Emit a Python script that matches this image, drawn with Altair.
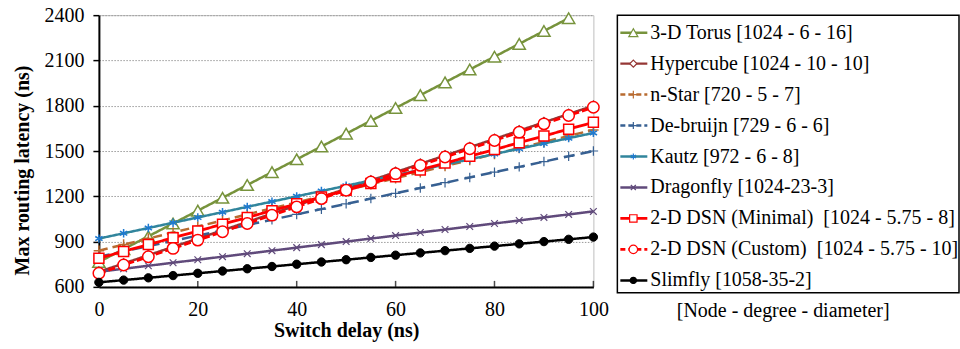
import altair as alt
import pandas as pd

# Switch delay values (ns)
delay = [0, 5, 10, 15, 20, 25, 30, 35, 40, 45, 50, 55, 60, 65, 70, 75, 80, 85, 90, 95, 100]

names = [
    "3-D Torus [1024 - 6 - 16]",
    "Hypercube [1024 - 10 - 10]",
    "n-Star [720 - 5 - 7]",
    "De-bruijn [729 - 6 - 6]",
    "Kautz [972 - 6 - 8]",
    "Dragonfly [1024-23-3]",
    "2-D DSN (Minimal)\u00a0 [1024 - 5.75 - 8]",
    "2-D DSN (Custom)\u00a0 [1024 - 5.75 - 10]",
    "Slimfly [1058-35-2]",
]

# Max routing latency (ns) per topology
torus = [765, 850, 935, 1020, 1105, 1190, 1275, 1360, 1445, 1530, 1615, 1700,
         1785, 1870, 1955, 2040, 2125, 2210, 2295, 2380]
hypercube = [700, 755, 810, 865, 920, 975, 1030, 1085, 1140, 1195, 1250, 1305,
             1360, 1415, 1470, 1525, 1580, 1635, 1690, 1745, 1800]
nstar = [840, 880, 920, 960, 1000, 1040, 1080, 1120, 1160, 1200, 1240, 1280,
         1320, 1360, 1400, 1440, 1480, 1520, 1560, 1600, 1640]
debruijn = [800, 835, 870, 905, 940, 975, 1010, 1045, 1080, 1115, 1150, 1185,
            1220, 1255, 1290, 1325, 1360, 1395, 1430, 1465, 1500]
kautz = [920, 955, 990, 1025, 1060, 1095, 1130, 1165, 1200, 1235, 1270, 1305,
         1340, 1375, 1410, 1445, 1480, 1515, 1550, 1585, 1620]
dragonfly = [700, 720, 740, 760, 780, 800, 820, 840, 860, 880, 900, 920,
             940, 960, 980, 1000, 1020, 1040, 1060, 1080, 1100]
dsn_min = [790, 835, 880, 925, 970, 1015, 1060, 1105, 1150, 1195, 1240, 1285,
           1330, 1375, 1420, 1465, 1510, 1555, 1600, 1645, 1690]
dsn_custom = [690, 745, 800, 855, 910, 965, 1020, 1075, 1130, 1185, 1240, 1295,
              1350, 1405, 1460, 1515, 1570, 1625, 1680, 1735, 1790]
slimfly = [630, 645, 660, 675, 690, 705, 720, 735, 750, 765, 780, 795,
           810, 825, 840, 855, 870, 885, 900, 915, 930]

series_values = [torus, hypercube, nstar, debruijn, kautz, dragonfly, dsn_min, dsn_custom, slimfly]

y_ticks = [600, 900, 1200, 1500, 1800, 2100, 2400]
x_ticks = [0, 20, 40, 60, 80, 100]

PLUS = "M-1,0H1M0,-1V1"
CROSS = "M-1,-1L1,1M-1,1L1,-1"
STAR = "M0,-1V1M-0.87,-0.5L0.87,0.5M-0.87,0.5L0.87,-0.5"

# line colour, dash, marker shape, marker stroke, marker fill, marker size, line width
styles = [
    dict(color="#77933C", dash=[1, 0], shape="triangle-up", mstroke="#77933C", fill="white", size=150, lw=2.5, msw=1.5),
    dict(color="#953735", dash=[1, 0], shape="diamond", mstroke="#953735", fill="white", size=90, lw=2.5, msw=1.5),
    dict(color="#B86B30", dash=[9, 5], shape=PLUS, mstroke="#B86B30", fill="white", size=110, lw=2.5, msw=1.5),
    dict(color="#376092", dash=[11, 6], shape=PLUS, mstroke="#376092", fill="white", size=90, lw=2.5, msw=1.2),
    dict(color="#31859C", dash=[1, 0], shape=STAR, mstroke="#1F7AD0", fill="white", size=70, lw=2.5, msw=1.5),
    dict(color="#604A7B", dash=[1, 0], shape=CROSS, mstroke="#604A7B", fill="white", size=45, lw=2.5, msw=1.2),
    dict(color="#FF0000", dash=[1, 0], shape="square", mstroke="#FF0000", fill="white", size=100, lw=2.8, msw=1.5),
    dict(color="#FF0000", dash=[7, 3], shape="circle", mstroke="#FF0000", fill="white", size=130, lw=2.8, msw=1.5),
    dict(color="#000000", dash=[1, 0], shape="circle", mstroke="#000000", fill="#000000", size=70, lw=2.5, msw=1.0),
]

FONT = "Liberation Serif"

x_enc = alt.X(
    "delay:Q",
    scale=alt.Scale(domain=[0, 100], nice=False),
    axis=alt.Axis(
        values=x_ticks, title="Switch delay (ns)", grid=False, ticks=False,
        labelFlush=False, domainColor="black", domainWidth=2, labelPadding=13,
        labelFont=FONT, labelFontSize=20, labelColor="black",
        titleFont=FONT, titleFontSize=20, titleFontWeight="bold", titleColor="black",
        titlePadding=1,
    ),
)
y_enc = alt.Y(
    "latency:Q",
    scale=alt.Scale(domain=[600, 2400], nice=False),
    axis=alt.Axis(
        values=y_ticks, format="d", title="Max routing latency (ns)",
        grid=True, gridColor="#9A9A9A", gridDash=[1.5, 1.5], gridWidth=1,
        domainColor="black", domainWidth=2, tickColor="black", tickWidth=1.5, tickSize=6,
        labelPadding=9, labelFont=FONT, labelFontSize=20, labelColor="black",
        titleFont=FONT, titleFontSize=20, titleFontWeight="bold", titleColor="black",
        titleX=-76, titleY=155, titleAngle=270, titleAlign="center", titleBaseline="middle",
    ),
)

layers = []
for name, vals, st in zip(names, series_values, styles):
    df = pd.DataFrame({"delay": delay[:len(vals)], "latency": vals, "series": name})
    base = alt.Chart(df)
    layers.append(
        base.mark_line(color=st["color"], strokeWidth=st["lw"], strokeDash=st["dash"])
        .encode(x=x_enc, y=y_enc)
    )
    layers.append(
        base.mark_point(shape=st["shape"], stroke=st["mstroke"], fill=st["fill"],
                        filled=False, fillOpacity=1, opacity=1, size=st["size"],
                        strokeWidth=st["msw"])
        .encode(x=x_enc, y=y_enc)
    )

# inward tick marks on the horizontal axis
tick_df = pd.DataFrame({"delay": x_ticks})
layers.append(
    alt.Chart(tick_df).mark_tick(orient="vertical", color="black", thickness=1.5, size=6, yOffset=-3)
    .encode(x=x_enc, y=alt.datum(600))
)

main = alt.layer(*layers).properties(
    width=495, height=272,
    view=alt.ViewBackground(stroke="#BFBFBF", strokeWidth=1),
)

# Legend panel
leg_layers = []
leg_y = alt.Y("row:Q", scale=alt.Scale(domain=[-0.565, 8.403], reverse=True, nice=False, zero=False), axis=None)
for i, (name, st) in enumerate(zip(names, styles)):
    ldf = pd.DataFrame({"row": [i], "label": [name]})
    lb = alt.Chart(ldf)
    leg_layers.append(
        lb.mark_rule(color=st["color"], strokeWidth=st["lw"],
                     strokeDash=[1, 0] if st["dash"] == [1, 0] else [5, 3])
        .encode(x=alt.value(3), x2=alt.value(30), y=leg_y)
    )
    leg_layers.append(
        lb.mark_point(shape=st["shape"], stroke=st["mstroke"], fill=st["fill"],
                      filled=False, fillOpacity=1, size=st["size"] * 0.55,
                      strokeWidth=1.2)
        .encode(x=alt.value(16), y=leg_y)
    )
    leg_layers.append(
        lb.mark_text(align="left", baseline="middle", font=FONT, fontSize=20, color="black")
        .encode(x=alt.value(33), y=leg_y, text="label:N")
    )

legend = alt.layer(*leg_layers).properties(
    width=342, height=278,
    view=alt.ViewBackground(stroke="black", strokeWidth=1.5),
    title=alt.TitleParams(
        "[Node - degree - diameter]", orient="bottom", anchor="middle",
        font=FONT, fontSize=20, fontWeight="normal", color="black", offset=8, dx=-5,
    ),
)

chart = alt.hconcat(main, legend, spacing=24, bounds="flush").properties(
    padding={"left": 12, "top": 4, "right": 0, "bottom": 0},
).configure_view(stroke=None)

chart.save("out.html", embed_options={"renderer": "svg", "actions": False})
